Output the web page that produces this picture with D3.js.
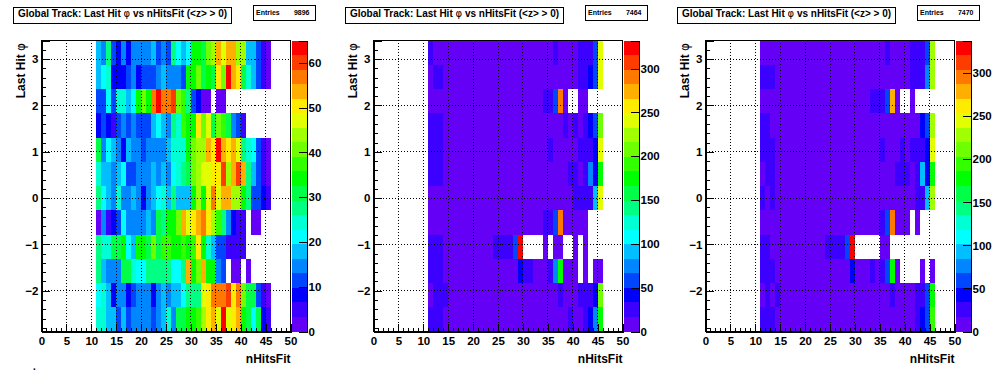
<!DOCTYPE html>
<html>
<head>
<meta charset="utf-8">
<title>Last Hit phi vs nHitsFit</title>
<script src="https://cdn.jsdelivr.net/npm/d3@7/dist/d3.min.js"></script>
<style>
  html, body { margin: 0; padding: 0; background: #fff; }
  svg { display: block; }
  text { font-family: "Liberation Sans", Arial, sans-serif; font-weight: bold; fill: #000; }
  .axis text { font-size: 11.5px; }
  .axis path, .axis line { stroke: #000; stroke-width: 1; shape-rendering: crispEdges; }
  .grid line { stroke: #000; stroke-width: 1; stroke-dasharray: 1 2; shape-rendering: crispEdges; }
</style>
</head>
<body>
<div id="chart"></div>
<script>
// first bin is nHitsFit 11, last one 45, rows go from the top of the plot (phi 3.4) down to -2.88
var firstBin = 11;
var entries = [9896, 7464, 7470];
var zMax = [65, 332, 338];
var zTicks = [
    [0, 10, 20, 30, 40, 50, 60],
    [0, 50, 100, 150, 200, 250, 300],
    [0, 50, 100, 150, 200, 250, 300]
];
var xTicks = [0, 5, 10, 15, 20, 25, 30, 35, 40, 45, 50];
var yTicks = [-2, -1, 0, 1, 2, 3];

// 0 means an empty bin, it stays white
var countsLeft = [
    [18,15,28,11,8, 15,8,15,15,15, 15,18,11,15,11, 28,21,18,21,34, 34,31,41,44,54, 47,54,54,44,44, 18,18,11,5,2],
    [18,21,24,8,8, 8,11,15,8,11, 11,11,15,18,15, 15,15,11,34,34, 41,31,34,31,50, 41,63,54,50,31, 24,18,11,5,2],
    [11,11,21,11,24, 24,18,21,34,41, 34,57,63,57,57, 60,41,37,28,11, 8,2,2,0,2, 2,0,0,0,0, 0,0,0,0,0],
    [8,11,8,5,11, 15,11,15,11,11, 11,18,21,18,15, 28,24,37,34,34, 50,41,47,31,41, 37,31,15,11,5, 0,0,0,0,0],
    [31,15,21,18,15, 8,18,15,15,11, 15,15,15,15,18, 24,24,24,34,41, 44,44,54,50,63, 54,50,54,47,28, 24,21,11,5,2],
    [24,18,18,15,18, 21,11,11,15,15, 15,18,15,18,15, 21,24,28,31,41, 44,47,47,50,50, 60,44,54,60,54, 28,18,11,5,2],
    [28,21,18,15,24, 15,15,18,15,8, 15,18,21,24,18, 28,18,18,18,34, 44,34,47,57,47, 54,54,44,44,34, 28,11,11,8,5],
    [2,15,5,8,11, 21,15,15,15,15, 18,15,31,28,34, 34,41,54,47,50, 54,57,50,44,37, 28,15,8,5,5, 0,2,2,0,0],
    [28,24,24,31,31, 34,21,18,34,34, 31,41,31,37,37, 34,34,37,34,37, 50,34,24,18,11, 11,5,5,5,5, 0,0,0,0,0],
    [28,18,15,15,15, 31,31,24,21,21, 28,28,28,28,28, 21,21,28,54,34, 41,54,34,34,15, 11,0,2,2,0, 2,0,0,0,0],
    [21,24,18,8,15, 15,8,11,15,15, 15,8,15,18,15, 18,18,21,28,28, 28,47,50,57,57, 57,60,50,57,41, 31,31,11,5,2],
    [24,24,18,18,11, 18,11,15,15,15, 15,11,15,18,24, 15,31,31,34,34, 37,44,50,54,47, 63,47,50,54,34, 31,21,31,8,5]
];
var countsMiddle = [
    [25,8,8,8,8, 8,8,8,8,8, 8,8,8,8,8, 8,8,8,8,8, 8,8,8,8,8, 25,8,8,8,8, 25,25,25,58,241],
    [8,25,25,8,8, 8,8,8,8,8, 8,8,8,8,8, 8,8,8,8,8, 8,8,8,8,8, 8,8,8,8,8, 25,25,41,58,241],
    [8,8,8,8,8, 8,8,8,8,8, 8,8,8,8,8, 8,8,8,8,8, 8,8,8,25,25, 58,291,8,0,0, 8,8,0,0,0],
    [25,25,25,8,8, 8,8,8,8,8, 8,8,8,8,8, 8,8,8,8,8, 8,8,8,8,8, 8,8,25,8,25, 8,25,41,58,208],
    [25,25,25,8,8, 8,8,8,8,8, 8,8,8,8,8, 8,8,8,8,8, 8,8,8,8,25, 8,8,8,8,8, 25,25,25,41,241],
    [25,25,25,8,8, 8,8,8,8,8, 8,8,8,8,8, 8,8,8,8,8, 8,8,8,8,8, 8,8,8,25,25, 8,25,75,41,174],
    [8,8,8,8,8, 8,8,8,8,8, 8,8,8,8,8, 8,8,8,8,8, 8,8,8,8,8, 8,8,8,8,25, 25,25,25,91,241],
    [8,8,8,8,8, 8,8,8,8,8, 8,8,8,8,8, 8,8,8,8,8, 8,8,8,25,25, 58,291,8,8,8, 8,8,0,0,0],
    [25,25,25,8,8, 8,8,8,8,8, 8,8,8,25,25, 25,25,58,324,0, 0,0,0,8,0, 8,8,0,0,8, 0,8,0,0,0],
    [25,25,25,8,8, 8,8,8,8,8, 8,8,8,8,8, 8,8,8,41,25, 25,8,8,8,25, 75,174,8,8,8, 0,8,0,8,8],
    [8,25,25,25,8, 8,8,8,8,8, 8,8,8,8,8, 8,8,8,8,8, 8,8,8,8,8, 8,25,8,8,8, 25,25,25,41,208],
    [25,25,25,8,8, 8,8,8,8,8, 8,8,8,8,8, 8,8,8,8,8, 8,8,8,8,8, 8,8,8,25,8, 8,25,41,75,174]
];
var countsRight = [
    [8,8,8,8,8, 8,8,8,8,8, 8,8,8,8,8, 8,8,8,8,8, 8,8,8,8,8, 25,8,8,8,8, 25,25,25,58,224],
    [25,25,25,8,8, 8,8,8,8,8, 8,8,8,8,8, 8,8,8,8,8, 8,8,8,8,8, 8,8,8,8,8, 25,25,25,75,224],
    [8,8,8,8,8, 8,8,8,8,8, 8,8,8,8,8, 8,8,8,8,8, 8,8,25,25,25, 58,274,8,0,0, 8,0,0,0,0],
    [25,25,8,8,8, 8,8,8,8,8, 8,8,8,8,8, 8,8,8,8,8, 8,8,8,8,8, 8,8,8,8,8, 8,8,41,58,224],
    [25,25,25,8,8, 8,8,8,8,8, 8,8,8,8,8, 8,8,8,8,8, 8,8,8,8,25, 8,8,8,25,8, 25,25,25,41,241],
    [8,25,25,8,8, 8,8,8,8,8, 8,8,8,8,8, 8,8,8,8,8, 8,8,8,8,8, 8,8,25,25,25, 8,25,91,41,174],
    [25,8,25,8,8, 8,8,8,8,8, 8,8,8,8,8, 8,8,8,8,8, 8,8,8,8,8, 8,8,8,8,8, 8,25,25,91,224],
    [8,8,8,8,8, 8,8,8,8,8, 8,8,8,8,8, 8,8,8,8,8, 8,8,8,8,25, 58,291,8,8,8, 0,8,0,0,0],
    [25,25,8,8,8, 8,8,8,8,8, 8,8,8,25,25, 25,25,58,324,0, 0,0,0,0,8, 8,0,0,0,0, 0,0,0,0,0],
    [25,25,25,8,8, 8,8,8,8,8, 8,8,8,8,8, 8,8,8,41,8, 8,8,25,8,25, 58,174,8,0,0, 0,0,8,0,8],
    [8,25,8,25,8, 8,8,8,8,8, 8,8,8,8,8, 8,8,8,8,8, 8,8,8,8,8, 8,25,8,8,8, 8,25,25,58,174],
    [25,25,25,8,8, 8,8,8,8,8, 8,8,8,8,8, 8,8,8,8,8, 8,8,8,8,8, 8,8,8,8,8, 8,25,41,58,191]
];
var panels = [countsLeft, countsMiddle, countsRight];

// 20 colour steps, bottom of the colour bar first
var palette = ["#6400f5", "#3c00ff", "#0000ff", "#0046ff", "#0087ff", "#00beff", "#00ffff", "#00ffd2",
    "#00ff82", "#00ff46", "#00ff00", "#32ff00", "#6eff00", "#a0ff00", "#e1ff00", "#ffeb00",
    "#ffaf00", "#ff7800", "#ff3c00", "#ff0000"];

var w = 996;
var h = 372;
var panelStep = 332;  // each pad sits 332 px right of the one before
var plotLeft = 41.5;
var plotRight = 290.5;
var plotTop = 40.5;
var plotBottom = 331.5;
var barLeft = 292;
var barRight = 306.5;

var svg = d3.select("#chart").append("svg").attr("width", w).attr("height", h);

var xScale = d3.scaleLinear().domain([0, 50]).range([plotLeft, plotRight]);
// phi bins are pi/6 wide, the axis starts at -11pi/12
var yScale = d3.scaleLinear().domain([-11 * Math.PI / 12, 13 * Math.PI / 12]).range([plotBottom, plotTop]);
var binEdge = function(i) { return 13 * Math.PI / 12 - i * Math.PI / 6; };

function drawPanel(counts, index) {
    var pad = svg.append("g").attr("transform", "translate(" + (index * panelStep) + ",0)");
    var zScale = d3.scaleLinear().domain([0, zMax[index]]).range([plotBottom, plotTop]);
    var colour = d3.scaleQuantize().domain([0, zMax[index]]).range(palette);

    // the bins
    var row = pad.selectAll("g.row").data(counts).enter().append("g").attr("class", "row");
    row.selectAll("rect")
        .data(function(d, i) { return d.map(function(v, j) { return { v: v, bin: firstBin + j, row: i }; }); })
        .enter()
        .filter(function(d) { return d.v > 0; })
        .append("rect")
        .attr("x", function(d) { return xScale(d.bin); })
        .attr("width", function(d) { return xScale(d.bin + 1) - xScale(d.bin); })
        .attr("y", function(d) { return yScale(binEdge(d.row)); })
        .attr("height", function(d) { return yScale(binEdge(d.row + 1)) - yScale(binEdge(d.row)); })
        .attr("fill", function(d) { return colour(d.v); })
        .attr("shape-rendering", "crispEdges");

    // dotted grid goes on top of the bins
    var grid = pad.append("g").attr("class", "grid");
    grid.selectAll("line.v").data(xTicks.slice(1, -1)).enter().append("line")
        .attr("class", "v")
        .attr("x1", xScale).attr("x2", xScale)
        .attr("y1", plotBottom).attr("y2", plotTop);
    grid.selectAll("line.h").data(yTicks).enter().append("line")
        .attr("class", "h")
        .attr("x1", plotLeft).attr("x2", plotRight)
        .attr("y1", yScale).attr("y2", yScale);

    // frame
    pad.append("rect")
        .attr("x", plotLeft).attr("y", plotTop)
        .attr("width", plotRight - plotLeft).attr("height", plotBottom - plotTop)
        .attr("fill", "none").attr("stroke", "#000").attr("shape-rendering", "crispEdges");

    // x axis, ticks point up into the plot
    pad.append("g").attr("class", "axis")
        .attr("transform", "translate(0," + plotBottom + ")")
        .call(d3.axisBottom(xScale).tickValues(d3.range(0, 51)).tickSize(-4).tickFormat(""));
    pad.append("g").attr("class", "axis")
        .attr("transform", "translate(0," + plotBottom + ")")
        .call(d3.axisBottom(xScale).tickValues(xTicks).tickSize(-8).tickPadding(5));

    // y axis, ticks point right
    pad.append("g").attr("class", "axis")
        .attr("transform", "translate(" + plotLeft + ",0)")
        .call(d3.axisLeft(yScale).tickValues(d3.range(-14, 18).map(function(d) { return d / 5; })).tickSize(-4).tickFormat(""));
    pad.append("g").attr("class", "axis")
        .attr("transform", "translate(" + plotLeft + ",0)")
        .call(d3.axisLeft(yScale).tickValues(yTicks).tickSize(-8).tickPadding(3).tickFormat(d3.format("d")));

    // colour bar
    pad.selectAll("rect.step").data(palette).enter().append("rect")
        .attr("class", "step")
        .attr("x", barLeft)
        .attr("width", barRight - barLeft)
        .attr("y", function(d, i) { return zScale((i + 1) / 20 * zMax[index]); })
        .attr("height", (plotBottom - plotTop) / 20)
        .attr("fill", function(d) { return d; })
        .attr("shape-rendering", "crispEdges");
    pad.append("g").attr("class", "axis")
        .attr("transform", "translate(" + barRight + ",0)")
        .call(d3.axisRight(zScale).tickValues(zTicks[index]).tickSize(-8).tickPadding(2));

    // axis titles
    pad.append("text")
        .attr("x", plotRight).attr("y", 363)
        .attr("text-anchor", "end").attr("font-size", 12)
        .text("nHitsFit");
    var yTitle = pad.append("text")
        .attr("transform", "translate(25,43) rotate(-90)")
        .attr("text-anchor", "end").attr("font-size", 12)
        .text("Last Hit ");
    yTitle.append("tspan").attr("font-family", "DejaVu Sans").attr("font-weight", "normal").text("\u03c6");

    // title box
    pad.append("rect")
        .attr("x", 13.5).attr("y", 7.5).attr("width", 218).attr("height", 16)
        .attr("fill", "#fff").attr("stroke", "#000").attr("shape-rendering", "crispEdges");
    var title = pad.append("text")
        .attr("x", 122.5).attr("y", 17)
        .attr("text-anchor", "middle").attr("font-size", 10)
        .text("Global Track: Last Hit ");
    title.append("tspan").attr("font-family", "DejaVu Sans").attr("font-weight", "normal").text("\u03c6");
    title.append("tspan").text(" vs nHitsFit (<z> > 0)");

    // stats box
    pad.append("rect")
        .attr("x", 253.5).attr("y", 5.5).attr("width", 62).attr("height", 15)
        .attr("fill", "#fff").attr("stroke", "#000").attr("shape-rendering", "crispEdges");
    pad.append("text").attr("x", 256).attr("y", 15).attr("font-size", 7).text("Entries");
    pad.append("text").attr("x", 309.5).attr("y", 15).attr("text-anchor", "end").attr("font-size", 7).text(entries[index]);
}

panels.forEach(drawPanel);

// stray dot under the first pad
svg.append("text").attr("x", 33).attr("y", 370).attr("font-size", 10).text(".");
</script>
</body>
</html>
